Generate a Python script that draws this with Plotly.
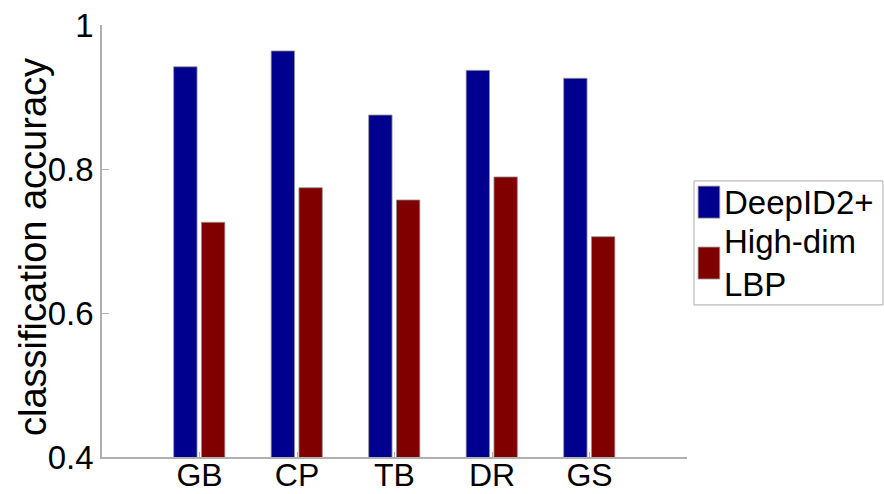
import plotly.graph_objects as go

categories = ["GB", "CP", "TB", "DR", "GS"]
deepid2_plus = [0.942, 0.964, 0.875, 0.937, 0.926]
high_dim_lbp = [0.726, 0.774, 0.757, 0.789, 0.706]
series_names = ["DeepID2+", "High-dim<br>LBP"]
series_colors = ["#00008F", "#800000"]
y_tick_vals = [0.4, 0.6, 0.8, 1.0]
y_tick_text = ["0.4", "0.6", "0.8", "1"]
y_title = "classification accuracy"

FONT = "Arial, Liberation Sans, sans-serif"
EDGE = dict(color="rgba(150,150,150,0.8)", width=1)

fig = go.Figure()
fig.add_trace(go.Bar(x=categories, y=deepid2_plus, name=series_names[0],
                     marker=dict(color=series_colors[0], line=EDGE),
                     width=0.24, offset=-0.265, showlegend=False))
fig.add_trace(go.Bar(x=categories, y=high_dim_lbp, name=series_names[1],
                     marker=dict(color=series_colors[1], line=EDGE),
                     width=0.24, offset=0.02, showlegend=False))

# Legend drawn as a boxed key to the right of the axes (paper coordinates)
fig.add_shape(type="rect", xref="paper", yref="paper",
              x0=1.012, x1=1.335, y0=0.352, y1=0.639,
              line=dict(color="#aaaaaa", width=1), fillcolor="white")
swatch_y = [(0.553, 0.627), (0.412, 0.486)]
text_y = [0.590, 0.449]
for name, color, (sy0, sy1), ty in zip(series_names, series_colors, swatch_y, text_y):
    fig.add_shape(type="rect", xref="paper", yref="paper",
                  x0=1.019, x1=1.056, y0=sy0, y1=sy1,
                  line=dict(color="rgba(150,150,150,0.8)", width=1),
                  fillcolor=color)
    fig.add_annotation(xref="paper", yref="paper", x=1.060, y=ty,
                       xanchor="left", yanchor="middle", text=name,
                       showarrow=False, align="left",
                       font=dict(size=33, family=FONT, color="black"))

# y-axis title
fig.add_annotation(xref="paper", yref="paper", x=-0.119, y=0.487,
                   xanchor="center", yanchor="middle", text=y_title,
                   textangle=-90, showarrow=False,
                   font=dict(size=38, family=FONT, color="black"))

fig.update_layout(
    width=884, height=494,
    margin=dict(l=102, r=197, t=25, b=37),
    paper_bgcolor="white", plot_bgcolor="white",
    barmode="overlay",
    font=dict(family=FONT, color="black"),
    xaxis=dict(type="category", range=[-1, 5], showgrid=False,
               showline=True, linecolor="#b0b0b0", linewidth=1.5,
               ticks="inside", ticklen=5, tickcolor="#b0b0b0",
               tickfont=dict(size=32, family=FONT, color="black"),
               ticklabelstandoff=-11,
               zeroline=False, automargin=False),
    yaxis=dict(range=[0.4, 1.0], showgrid=False, zeroline=False,
               showline=True, linecolor="#b0b0b0", linewidth=1.5,
               ticks="inside", ticklen=7, tickcolor="#b0b0b0",
               tickvals=y_tick_vals, ticktext=y_tick_text,
               tickfont=dict(size=33, family=FONT, color="black"),
               automargin=False),
)

fig.write_html("out.html",
               config={"displayModeBar": False},
               post_script="document.body.style.margin='0';"
                           "document.body.style.overflow='hidden';")
